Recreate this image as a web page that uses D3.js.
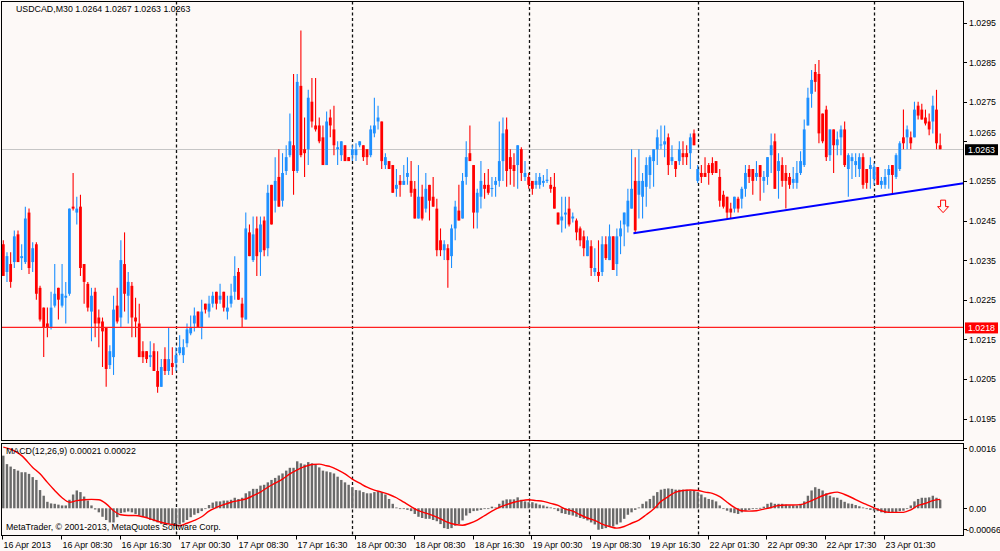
<!DOCTYPE html>
<html>
<head>
<meta charset="utf-8">
<script src="https://cdn.jsdelivr.net/npm/d3@7"></script>
<style>
  html, body { margin: 0; padding: 0; background: #fdf9f7; }
  svg { display: block; }
  text { font-family: "Liberation Sans", Arial, sans-serif; font-size: 9.8px; fill: #000; }
</style>
</head>
<body>
<svg id="chart" width="1000" height="551"></svg>
<script>
// USDCAD M30 candles, values in pips above 1.0200
const BASE = 1.0200, PIP = 0.0001;

const open = [
  39,32,34,34.5,41.5,35.5,34.5,47,34.5,39,
  28,23,19,18,23.5,28,23.5,25.5,26.5,48.5,
  47,48.5,34,29,22,27,20.5,19.5,18,8.5,
  10.5,23.5,20.5,34,26,28.5,20.5,19,12,12,
  10.5,12,7,3,10,7,9,9,11.5,11,
  14,16.5,19,22,18,24,22,24,27,25,
  27,22,24,27,32,24,20,42,35,43,
  37,45,38,54,50,56,50,57.5,61.5,64,
  57.5,79,63,63,75,69,69,66,59,71,
  68,63,61.5,64,61,61.5,61.5,64,64,63,
  61.5,67,70,70,59,60,59,53,55,54,
  56,55,53,45.5,51,48,54,51,48,40,
  37.5,38,36,43,47.5,45.5,56,62,59,47,
  51,54,54,53,54,55,60,68,61,59,
  59,63,56,56,55,54,54,54.5,55,54,
  53.5,47,45,46.5,48,45.5,45,43,41,36,
  38.5,32,32,32,39,35,41,34,41,44,
  43.5,48,55,51.5,51,53.5,56.5,60,63,64,
  64.2,66,60,60,60,62,62,62,67,55,
  57,57,59,59.5,60,56,51.5,51,48,48,
  50.5,50.5,53,58,58,56,59,55,56,61.5,
  65,57.5,59,57,56,54.5,54.5,57,59,69,
  77,82.5,82,72,73,61.5,68,64,66,68,
  58,60,59,58,61,58,58,55.5,58.5,54,
  54,56.5,59,56,58,66,66,66,66,74,
  73,71,70,70,73,64
];
const high = [
  40,37,37,42.5,42.5,39,48.5,48,39.5,39.5,
  28.5,23,23,27,34,28,34,29.5,48,57,
  51,51.5,34,29.5,28,28,22.5,20.5,18,13.5,
  26,28,40,42,32,29.5,25.5,24,14.5,12,
  14.5,14,12,10,13,18,13,13,16,15,
  19,21,23,22,25,24,26,27,27,29,
  27,26,29,36,33,25.5,47,44,46,46,
  46,46,54,54,61,63,62,64,72,82,
  82,93,71,78,81,81,71,69,72.5,73,
  74,65,65,64,61,64,64.5,65,64,63,
  69,76,74,70,62,60,59,58,56.5,59,
  61,60,55,59,54,57,54,56,50.5,43,
  40,39,44,50,54,57,65,69,59,53,
  60,57,58,56,56,70,71,71,63,62,
  64,63.5,60,57,55,57,57,56.5,58,56,
  57,47,51,51,51,47,45.5,43.5,42.5,41,
  40,38,40,41,41,44,41,43,45,47,
  53,63,61,63,57,61,61.5,63,68,69,
  69,67,64,60,65,65,64,67,68,59,
  59,61,59.5,61,60,58,52.5,51,49.5,51,
  51,53.5,59,59,58,60,59,57.5,61,67,
  67,62,61,59,57,58.5,60,62.5,70.5,78.5,
  83,84.5,85.5,72,74,68,68,67.5,69,70,
  62,62,62,62,62,58,61,59.5,58.5,56,
  58,59,59,62,65,73,69,67.5,75,75,
  74.5,73,72,76.5,78,67
];
const low = [
  31,29.5,28,33,34.5,32.5,34,31.5,32,25,
  19.5,10.5,15.5,17.5,23,20,23,19,26,47.5,
  44,31,24,22,14.5,15.5,13,8,3,7.5,
  6,19,18,22,19,15.5,15.5,10.5,9,9,
  8,7,1.5,3,6,6,6,7,11,9,
  13,16,17,18,15,21.5,20.5,23,22.5,24,
  22,20,23,25,25,18,20,36,34.5,31,
  31,36,36,44,47,48.5,48.5,56.5,61,51.5,
  57,61,56,59,68.5,67.5,64.5,59,59,66,
  61.5,59,60,60,60,60,60,63.5,60,59,
  61,66,68,58,58,58,52,51,51,54,
  54,51,45.5,45.5,45,47,45,48.5,36,36,
  35,28,33,40,45,45.5,54,60,43,43,
  48,50.5,51.5,51,51,53.5,55,53.5,54,53.5,
  53,55,55,53,51.5,53,53,53.5,54.5,52,
  48,44,42,43,43.5,44.5,40,38.5,36,36,
  31,31,29.5,31,35,35,32.5,31,36.5,38.5,
  42,48,42,45.5,45.5,48.5,53,53.5,59,63,
  61,56.5,59,56,59,59,59,58,64,54.5,
  54.5,56,54,56.5,57,48.5,48,45.5,45.5,47,
  47,48,51,54.5,51.5,55,50,52,54,57,
  53,50.5,53.5,48,53,53,53,56.5,58.5,69,
  73.5,77.5,64.5,64.5,60,60,57,61.5,61.5,58.5,
  51,55.5,56,56,53,53,53,54,54,53,
  53,53,51.5,55.5,57.5,63,63,63,66,70.5,
  70.5,69,66.5,67,63,63
];
const close = [
  31,36,29.5,41,34.5,36,45.5,33,38,26.5,
  20,18,18,23,26.5,25,26.5,26,48,48,
  48,33,29.5,23,26,19,19,17,7.5,12,
  22.5,19.5,35,26.5,29.5,20.5,19.5,10.5,10.5,10,
  11,7,3,8,7,10,8,11,13,13,
  17.5,18,21,18,22,22.5,24,26,24,26,
  23,23,26,31,25,20.5,43,36,41.5,36,
  44,37.5,52,44,55,48.5,57,61,65,57.5,
  80,61.5,62,76,70,68,65,59,70,69,
  64,63.5,65,60,60,63,63,65,61,61,
  68,69,71,60,61,58,52,54,54,55,
  57,52,45.5,51,45.5,53,50,48.5,37.5,37.5,
  39,35,43,48.5,45,55,61,60,47,52,
  55,53,52,53.2,55,60,67,57.5,58,57.5,
  64,57,57,54,53,55,56,55,55.3,53,
  48,44,46,47,44,46,42,40,38,40,
  33,33,31,39,35.5,41,32.5,41,43,47,
  50,53,42.5,55,55,59,61,63,66,64.2,
  65,59,61,58,63,61,61,66,64,58,
  56,56,57,57,57,50,48.5,47,47,51,
  48,53,57,56,55,57,56,56,61,64,
  53,60,55,55,54,55.5,57,60,68,76,
  80.5,80,67,65,61,68,64,65.5,68,59,
  61.5,61,60,61,54,54.5,59,58.5,54,55,
  56,58,56.5,61.5,64.5,64.5,68,64.5,73,71.5,
  70.5,69.5,68,74,64.5,63
];

// MACD(12,26,9) main histogram, units of 0.0001
const macd = [
  13.0,10.9,10.3,9.7,9.3,8.9,8.9,8.5,7.7,7.0,
  4.5,3.1,1.6,1.2,1.1,0.9,0.7,0.7,2.1,3.4,
  4.4,4.0,2.9,1.9,0.7,-0.3,-1.0,-2.1,-2.9,-3.5,
  -3.5,-2.2,-1.2,-1.0,-0.8,-1.0,-1.4,-1.8,-2.1,-2.4,
  -2.9,-3.2,-3.5,-3.9,-4.0,-3.9,-3.9,-4.3,-4.0,-3.5,
  -2.9,-2.2,-1.6,-1.2,-0.7,-0.2,0.8,1.4,1.7,1.7,
  1.9,1.9,2.1,2.6,2.3,2.6,3.7,4.2,4.8,4.8,
  5.6,5.8,6.4,7.0,7.5,8.1,8.6,9.3,10.0,10.0,
  11.6,11.1,10.8,11.4,11.1,10.8,10.1,9.3,9.1,8.9,
  8.6,7.8,7.0,6.4,5.8,5.2,4.5,4.4,4.0,3.7,
  3.7,4.0,4.2,4.0,3.4,2.3,1.1,0.2,-0.2,-0.2,
  -0.4,-0.7,-1.4,-2.1,-2.4,-2.6,-2.6,-2.9,-3.2,-3.9,
  -4.9,-5.1,-4.9,-4.3,-3.9,-3.0,-1.8,-1.2,-0.7,-0.6,
  -0.4,-0.2,0.0,0.4,0.2,1.1,1.9,2.2,2.2,2.2,
  2.7,2.1,1.7,1.5,1.5,1.2,0.9,0.7,0.4,0.2,
  -0.2,-0.7,-1.2,-1.4,-1.6,-1.8,-2.1,-2.4,-2.6,-3.0,
  -3.5,-4.0,-5.3,-5.1,-4.9,-4.5,-4.5,-4.0,-3.5,-2.6,
  -1.6,-1.0,-0.4,0.2,1.1,1.7,2.3,3.1,4.0,4.6,
  4.8,4.9,4.8,4.6,4.6,4.6,4.6,4.4,4.4,4.0,
  3.4,2.7,2.3,2.1,1.7,0.7,0.0,-0.6,-1.0,-1.2,
  -1.4,-1.0,-0.6,-0.4,-0.2,-0.1,0.1,0.4,1.1,1.4,
  1.1,1.1,1.1,0.9,0.7,0.7,0.7,1.1,1.7,3.1,
  4.4,5.2,4.8,4.4,3.7,3.1,2.7,2.6,2.1,1.6,
  1.2,1.1,0.8,0.5,0.2,-0.2,-0.4,-0.6,-0.7,-1.0,
  -1.2,-1.0,-1.0,-0.9,-0.7,-0.6,0.0,0.7,1.7,2.3,
  2.6,2.6,2.7,3.1,2.6,2.1
];

// signal line, read at these bars (units of 0.0001)
const sigBars = [0,3,5,8,10,12,14,16,18,20,22,24,26,28,30,32,34,36,38,40,42,44,46,48,50,52,54,56,58,60,
  62,64,66,68,70,72,74,76,78,80,82,84,86,88,89,91,93,95,97,99,101,103,105,107,109,111,113,115,117,119,
  121,123,125,127,129,131,133,135,137,139,141,143,145,147,149,151,153,155,157,159,161,163,165,167,169,171,173,175,177,179,
  181,183,185,187,189,191,193,195,197,199,201,203,205,207,209,211,213,215,217,219,221,223,225,227,229,231,233,235,237,239,
  241,243,245,247,249,251,253,255];
const sig = [15.1,14.2,13.0,10.1,8.5,6.4,4.4,2.6,1.5,1.9,2.1,2.2,2.1,1.1,-0.6,-1.6,-1.8,-1.8,-2.1,-2.6,-3.2,-3.7,-4.0,-4.3,-3.7,-3.0,-2.1,-0.7,0.2,0.9,
  1.5,1.9,2.3,3.1,4.0,5.2,6.2,7.2,8.5,9.5,10.3,10.8,10.9,10.5,10.3,9.5,8.5,7.2,6.2,5.2,4.5,4.0,3.4,2.6,1.5,0.4,-0.6,-1.2,-1.8,-2.6,
  -3.5,-4.0,-4.2,-3.7,-2.9,-1.8,-0.7,0.2,0.9,1.5,1.9,2.1,1.9,1.7,1.2,0.7,-0.2,-0.7,-1.6,-2.4,-3.0,-3.9,-4.5,-4.9,-4.5,-3.7,-2.9,-1.6,-0.2,1.7,
  2.9,4.0,4.4,4.5,4.4,4.0,3.7,2.9,1.5,0.2,-0.6,-0.7,-0.6,-0.2,0.2,0.7,0.8,0.8,0.9,1.5,2.3,3.1,3.7,4.0,3.4,2.6,1.7,0.9,0.1,-0.6,
  -1.0,-1.0,-1.0,-0.4,0.7,1.2,1.9,2.2];

// axis labels
const timeBars = [0,16,32,48,64,80,96,112,128,144,160,176,192,208,224,240];
const timeLabels = ["16 Apr 2013","16 Apr 08:30","16 Apr 16:30","17 Apr 00:30","17 Apr 08:30","17 Apr 16:30",
  "18 Apr 00:30","18 Apr 08:30","18 Apr 16:30","19 Apr 00:30","19 Apr 08:30","19 Apr 16:30",
  "22 Apr 01:30","22 Apr 09:30","22 Apr 17:30","23 Apr 01:30"];
const dayStarts = [47,95,143,189,237];   // period separators
const priceTicks = ["1.0295","1.0285","1.0275","1.0265","1.0255","1.0245","1.0235","1.0225","1.0215","1.0205","1.0195"];
const bidPrice = 1.0263;
const hLinePrice = 1.0218;
const trendBars = [171.5, 255], trendPrices = [1.02418, 1.02535];
const arrowBar = 255.8, arrowPrice = 1.02485;

const svg = d3.select("#chart");
const L = 1.5, R = 963.5;
const mainTop = 1.5, mainBot = 440.5, subTop = 443.5, subBot = 535.5;

const x = d3.scaleLinear().domain([0, 255]).range([3.3, 3.3 + 255 * 3.674]);
const y = d3.scaleLinear().domain([1.0195, 1.0295]).range([418.5, 22.5]);
const ym = d3.scaleLinear().domain([-0.00066, 0.0016]).range([535, 443.5]);
const px = p => BASE + p * PIP;

function label(g, tx, ty, str, fill) {
  return g.append("text")
    .attr("transform", `translate(${tx},${ty}) scale(0.9,1)`)
    .attr("dy", "0.35em")
    .style("fill", fill || "#000")
    .text(str);
}

svg.append("rect").attr("width", 1000).attr("height", 551).attr("fill", "#fdf9f7");

// period separators
const sepG = svg.append("g").attr("stroke", "#111").attr("stroke-width", 1.3).attr("stroke-dasharray", "3,2.5");
dayStarts.forEach(b => {
  const xx = Math.round(x(b)) + 0.5;
  sepG.append("line").attr("x1", xx).attr("x2", xx).attr("y1", mainTop).attr("y2", mainBot);
  sepG.append("line").attr("x1", xx).attr("x2", xx).attr("y1", subTop).attr("y2", subBot);
});

// bid line and horizontal line
svg.append("line").attr("x1", L).attr("x2", R)
  .attr("y1", Math.round(y(bidPrice)) + 0.5).attr("y2", Math.round(y(bidPrice)) + 0.5)
  .style("stroke", "#c6c6c6").style("stroke-width", 1);

// candles
const bars = d3.range(close.length).map(i => ({i, o: px(open[i]), h: px(high[i]), l: px(low[i]), c: px(close[i])}));
const cg = svg.append("g");
cg.selectAll("line.wick").data(bars).enter().append("line")
  .attr("class", "wick")
  .attr("x1", d => x(d.i)).attr("x2", d => x(d.i))
  .attr("y1", d => y(d.h)).attr("y2", d => y(d.l))
  .attr("stroke", d => d.c >= d.o ? "#1e90ff" : "#ff0000")
  .attr("stroke-width", 1.1);
cg.selectAll("rect.body").data(bars).enter().append("rect")
  .attr("class", "body")
  .attr("x", d => x(d.i) - 1.4).attr("width", 2.8)
  .attr("y", d => y(Math.max(d.o, d.c)))
  .attr("height", d => Math.max(1, Math.abs(y(d.o) - y(d.c))))
  .attr("fill", d => d.c >= d.o ? "#1e90ff" : "#ff0000");

// horizontal line object
svg.append("line").attr("x1", L).attr("x2", R)
  .attr("y1", y(hLinePrice)).attr("y2", y(hLinePrice))
  .style("stroke", "#ff2020").style("stroke-width", 1.3);

// trendline (ray to the right edge)
const slope = (trendPrices[1] - trendPrices[0]) / (trendBars[1] - trendBars[0]);
const endBar = x.invert(R);
svg.append("line")
  .attr("x1", x(trendBars[0])).attr("y1", y(trendPrices[0]))
  .attr("x2", x(endBar)).attr("y2", y(trendPrices[0] + slope * (endBar - trendBars[0])))
  .attr("stroke", "#0000ff").attr("stroke-width", 2);

// sell arrow
const ax = x(arrowBar), ay = y(arrowPrice);
svg.append("path")
  .attr("d", `M${ax - 2.5},${ay - 6.5} H${ax + 2.5} V${ay} H${ax + 5.5} L${ax},${ay + 6} L${ax - 5.5},${ay} H${ax - 2.5} Z`)
  .attr("fill", "#fdf9f7").attr("stroke", "#ff0000").attr("stroke-width", 1);

// MACD histogram
const mg = svg.append("g");
mg.selectAll("rect").data(macd.map((v, i) => ({i, v: v * PIP}))).enter().append("rect")
  .attr("x", d => x(d.i) - 1.2).attr("width", 2.4)
  .attr("y", d => Math.min(ym(d.v), ym(0)))
  .attr("height", d => Math.max(0.8, Math.abs(ym(d.v) - ym(0))))
  .attr("fill", "#6a6a6a");

// signal line
const sigPts = sigBars.map((b, k) => [x(b), ym(sig[k] * PIP)]);
svg.append("path")
  .attr("d", d3.line().curve(d3.curveMonotoneX)(sigPts))
  .attr("fill", "none").attr("stroke", "#ff0000").attr("stroke-width", 1.4);

// panel frames
svg.append("rect").attr("x", L).attr("y", mainTop).attr("width", R - L).attr("height", mainBot - mainTop)
  .attr("fill", "none").attr("stroke", "#000");
svg.append("rect").attr("x", L).attr("y", subTop).attr("width", R - L).attr("height", subBot - subTop)
  .attr("fill", "none").attr("stroke", "#000");

// price axis
const ag = svg.append("g");
const boxes = [{p: bidPrice, fill: "#000"}, {p: hLinePrice, fill: "#ff0000"}];
priceTicks.forEach(t => {
  const yy = y(+t);
  ag.append("line").attr("x1", R).attr("x2", R + 3.5).attr("y1", Math.round(yy) + 0.5).attr("y2", Math.round(yy) + 0.5).attr("stroke", "#000");
  let ly = yy;
  const hit = boxes.find(b => Math.abs(y(b.p) - yy) < 10);
  if (hit) ly = y(hit.p) - 17;
  label(ag, 969, ly, t);
});
boxes.forEach(b => {
  const yy = y(b.p);
  ag.append("rect").attr("x", 965).attr("y", yy - 5).attr("width", 33).attr("height", 11).attr("fill", b.fill);
  label(ag, 968, yy + 0.5, d3.format(".4f")(b.p), "#fff");
});

// MACD axis
[[0.0016, "0.0016", 448.3, 969], [0, "0.00", ym(0), 969], [-0.00066, "-0.00066", 529.3, 966]].forEach(([v, t, yy, lx]) => {
  ag.append("line").attr("x1", R).attr("x2", R + 3.5).attr("y1", Math.round(yy) + 0.5).attr("y2", Math.round(yy) + 0.5).attr("stroke", "#000");
  label(ag, lx, yy, t);
});

// time axis
timeBars.forEach((b, k) => {
  const xx = Math.round(x(b)) - 0.5;
  ag.append("line").attr("x1", xx).attr("x2", xx).attr("y1", subBot).attr("y2", subBot + 4).attr("stroke", "#000");
  label(ag, xx + 1, 545, timeLabels[k]);
});

// texts
label(svg, 16, 8.5, "USDCAD,M30  1.0264 1.0267 1.0263 1.0263");
label(svg, 6, 450.7, "MACD(12,26,9) 0.00021 0.00022");
label(svg, 6, 526.7, "MetaTrader, \u00a9 2001-2013, MetaQuotes Software Corp.");
</script>
</body>
</html>
